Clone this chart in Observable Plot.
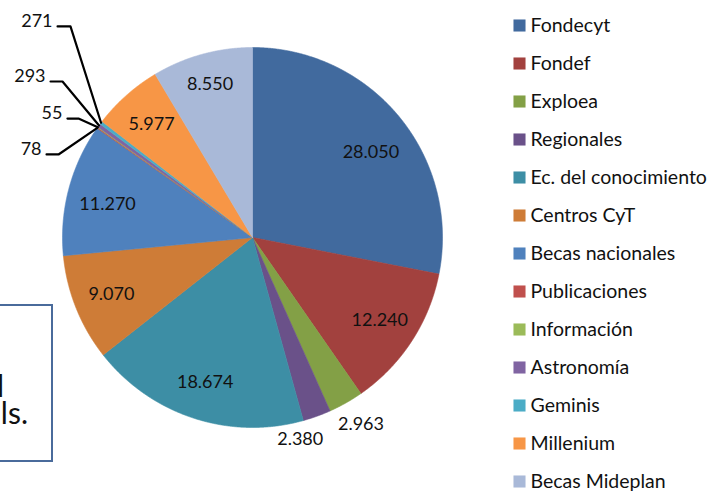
<!DOCTYPE html>
<html><head><meta charset="utf-8">
<script src="https://cdn.jsdelivr.net/npm/d3@7"></script>
<script src="https://cdn.jsdelivr.net/npm/@observablehq/plot@0.6"></script>
<style>
html,body{margin:0;padding:0;background:#fff;}
#wrap{position:relative;width:709px;height:493px;overflow:hidden;font-family:Lato,"Open Sans",sans-serif;}
#pie,#legend{position:absolute;top:0;}
#pie{left:0;}
#legend{left:500px;}
#box{position:absolute;left:-10px;top:304px;width:59px;height:154px;border:2px solid #4A6B9B;background:transparent;}
.boxline{position:absolute;font-size:30px;line-height:26px;color:#111;white-space:nowrap;text-align:right;}
</style>
</head><body>
<div id="wrap">
  <div id="pie"></div>
  <div id="box"></div>
  <div class="boxline" style="right:calc(709px - 4px);top:372px;">l</div>
  <div class="boxline" style="right:calc(709px - 28px);top:399px;">ls.</div>
  <div id="legend"></div>
</div>
<script>
const categories = ["Fondecyt","Fondef","Exploea","Regionales","Ec. del conocimiento","Centros CyT","Becas nacionales","Publicaciones","Información","Astronomía","Geminis","Millenium","Becas Mideplan"];
const values = [28050,12240,2963,2380,18674,9070,11270,78,55,293,271,5977,8550];
const valueLabels = ["28.050","12.240","2.963","2.380","18.674","9.070","11.270","78","55","293","271","5.977","8.550"];
const colors = ["#416A9E","#A2413E","#83A046","#6A5189","#3D8EA5","#CE7C37","#4F81BD","#C0504D","#9BBB59","#8064A2","#4BACC6","#F79646","#A9B9D8"];

// label placement styles (layout, not data)
const insideNudge = {"Fondecyt": {dx: 1, dy: 11}, "Becas Mideplan": {dx: -2, dy: -7}, "Becas nacionales": {dx: 2, dy: 6}};
const outsideLabels = {"Exploea": {r: 1.13, dx: 3}, "Regionales": {r: 1.13, dx: -25}};
const leaderElbows = { // label end / elbow in unit-radius space
  "Geminis":       [[-1.026, 1.111], [-0.958, 1.111]],
  "Astronomía":    [[-1.063, 0.821], [-1.0, 0.821]],
  "Información":   [[-0.974, 0.626], [-0.916, 0.626]],
  "Publicaciones": [[-1.084, 0.437], [-1.021, 0.437]]
};

const total = d3.sum(values);
let acc = 0;
const slices = categories.map((name, i) => {
  const a0 = acc / total * 2 * Math.PI;
  acc += values[i];
  const a1 = acc / total * 2 * Math.PI;
  return {name, value: values[i], label: valueLabels[i], a0, a1, mid: (a0 + a1) / 2};
});

// polygon points for each slice (angle clockwise from top)
const piePts = [];
for (const s of slices) {
  piePts.push({name: s.name, x: 0, y: 0});
  const n = Math.max(2, Math.ceil((s.a1 - s.a0) / 0.004));
  for (let k = 0; k <= n; k++) {
    const a = s.a0 + (s.a1 - s.a0) * k / n;
    piePts.push({name: s.name, x: Math.sin(a), y: Math.cos(a)});
  }
  piePts.push({name: s.name, x: 0, y: 0});
}

const inside = slices.filter(s => !outsideLabels[s.name] && !leaderElbows[s.name])
  .map(s => ({...s, x: 0.8 * Math.sin(s.mid), y: 0.8 * Math.cos(s.mid),
              dx: (insideNudge[s.name] || {}).dx || 0, dy: (insideNudge[s.name] || {}).dy || 0}));
const outside = slices.filter(s => outsideLabels[s.name])
  .map(s => ({...s, x: outsideLabels[s.name].r * Math.sin(s.mid), y: outsideLabels[s.name].r * Math.cos(s.mid), dx: outsideLabels[s.name].dx, dy: 0}));
const placed = inside.concat(outside);

const leaderPts = [];
const leaderText = [];
for (const s of slices) {
  const e = leaderElbows[s.name];
  if (!e) continue;
  leaderPts.push({name: s.name, x: e[0][0], y: e[0][1]});
  leaderPts.push({name: s.name, x: e[1][0], y: e[1][1]});
  leaderPts.push({name: s.name, x: Math.sin(s.mid), y: Math.cos(s.mid)});
  leaderText.push({label: s.label, x: e[0][0], y: e[0][1]});
}

const colorScale = {type: "ordinal", domain: categories, range: colors};

const pie = Plot.plot({
  width: 709, height: 493,
  margin: 0,
  x: {domain: [-1, 1], range: [62, 442], axis: null},
  y: {domain: [-1, 1], range: [427, 47], axis: null},
  color: colorScale,
  style: {fontFamily: "Lato, 'Open Sans', sans-serif", background: "transparent"},
  marks: [
    Plot.line(piePts, {x: "x", y: "y", z: "name", fill: "name", stroke: "name", strokeWidth: 0.6, curve: "linear"}),
    ...placed.map(d => Plot.text([d], {x: "x", y: "y", text: "label", fontSize: 18, fill: "#111", dx: d.dx, dy: d.dy})),
    Plot.line(leaderPts, {x: "x", y: "y", z: "name", stroke: "#000", strokeWidth: 2.2}),
    Plot.text(leaderText, {x: "x", y: "y", text: "label", fontSize: 18, fill: "#111", textAnchor: "end", dx: -5, dy: -5})
  ]
});
document.getElementById("pie").append(pie);

const legend = Plot.plot({
  width: 209, height: 493,
  margin: 0,
  x: {domain: [0, 1], range: [19, 209], axis: null},
  y: {type: "point", domain: categories, range: [22, 484], padding: 0, axis: null},
  color: colorScale,
  style: {fontFamily: "Lato, 'Open Sans', sans-serif", background: "transparent"},
  marks: [
    Plot.dot(categories, {x: () => 0, y: d => d, fill: d => d, symbol: "square", r: 6.8}),
    Plot.text(categories, {x: () => 0, y: d => d, text: d => d, dx: 11, textAnchor: "start", fontSize: 19.5, fill: "#111"})
  ]
});
document.getElementById("legend").append(legend);
</script>
</body></html>
